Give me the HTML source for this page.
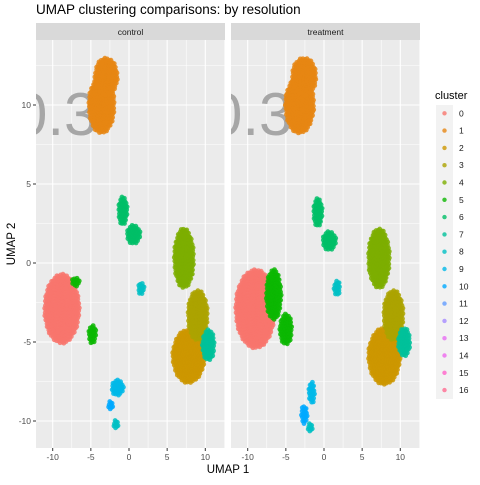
<!DOCTYPE html>
<html><head><meta charset="utf-8"><style>
body{margin:0;background:#fff;}
svg{font-family:"Liberation Sans",sans-serif;}
</style></head><body>
<svg id="chart" width="480" height="480" xmlns="http://www.w3.org/2000/svg">
<rect width="480" height="480" fill="#fff"/>
<text x="36" y="14" font-size="13.5" fill="#000">UMAP clustering comparisons: by resolution</text>
<text x="228" y="473" font-size="11.5" text-anchor="middle">UMAP 1</text>
<text x="15" y="244" font-size="11.5" text-anchor="middle" transform="rotate(-90 15 244)">UMAP 2</text>
<g id="panels"></g>
<g id="legend">
<text x="435" y="99" font-size="11">cluster</text>
<rect x="436" y="105" width="17" height="294" fill="#F2F2F2"/>
</g>
</svg>
<script>
const facets = ["control","treatment"];
const clusterIds = [0,1,2,3,4,5,6,7,8,9,10,11,12,13,14,15,16];
const clusterColors = ["#F8766D","#E68613","#CD9600","#ABA300","#7CAE00","#0CB702","#00BE67","#00C19A","#00BFC4","#00B8E7","#00A9FF","#619CFF","#A58AFF","#E76BF3","#ED68ED","#FF61C9","#FF6C91"];
const xTicks = [-10,-5,0,5,10];
const yTicks = [-10,-5,0,5,10];
// blobs: [facet, cluster, cx, cy, rx, ry]
const blobFacet = [0,0,0,0,0,0,0,0,0,0,0,0,0,0,0, 1,1,1,1,1,1,1,1,1,1,1,1,1,1,1];
const blobCluster = [1,1,0,2,3,4,7,5,5,6,6,8,9,10,8, 1,1,0,5,5,2,3,4,7,6,6,8,9,10,8];
const blobCx = [-3.6,-3.0,-8.8,7.8,9.0,7.2,10.4,-7.0,-4.8,-0.8,0.6,1.6,-1.5,-2.4,-1.7, -3.2,-2.6,-9.0,-6.6,-5.0,7.9,9.1,7.2,10.5,-0.8,0.7,1.7,-1.6,-2.6,-1.8];
const blobCy = [10.0,11.8,-2.9,-5.9,-3.3,0.3,-5.2,-1.2,-4.5,3.3,1.8,-1.6,-7.9,-9.0,-10.2, 10.0,11.8,-2.9,-2.0,-4.2,-5.9,-3.3,0.3,-5.0,3.2,1.4,-1.6,-8.2,-9.6,-10.4];
const blobRx = [1.7,1.5,2.3,2.1,1.3,1.3,0.8,0.5,0.5,0.6,0.9,0.4,0.8,0.3,0.3, 1.9,1.6,2.6,1.0,0.8,2.1,1.3,1.4,0.8,0.6,0.9,0.4,0.4,0.4,0.3];
const blobRy = [1.8,1.2,2.2,1.7,1.6,1.9,1.0,0.3,0.6,0.9,0.6,0.4,0.5,0.3,0.3, 1.8,1.2,2.5,1.6,1.0,1.8,1.6,1.9,0.9,0.9,0.6,0.5,0.7,0.6,0.3];

const NS="http://www.w3.org/2000/svg";
const panelX=[36,231], panelW=189, panelTop=40, panelBot=448;
function sx(f,v){return panelX[f]+16.7+(v+10)*7.63;}
function sy(v){return 263-v*15.8;}
const root=document.getElementById('panels');
function mk(tag,attrs,parent){const e=document.createElementNS(NS,tag);for(const k in attrs)e.setAttribute(k,attrs[k]);parent.appendChild(e);return e;}

facets.forEach((name,f)=>{
  const g=mk('g',{},root);
  
  
  const x0=panelX[f];
  const strip=mk('rect',{x:x0,y:23,width:panelW,height:17,fill:'#D9D9D9'},g);
  
  
  const st=mk('text',{x:x0+panelW/2,y:35,'font-size':'8.5','text-anchor':'middle',fill:'#1A1A1A'},g);
  st.textContent=name;
  
  
  const bg=mk('rect',{x:x0,y:panelTop,width:panelW,height:panelBot-panelTop,fill:'#EBEBEB'},g);
  
  
  const cp=mk('clipPath',{id:'clip'+f},g);
  mk('rect',{x:x0,y:panelTop,width:panelW,height:panelBot-panelTop},cp);
  const inner=mk('g',{'clip-path':'url(#clip'+f+')'},g);
  for(let v=-12.5;v<=12.5;v+=2.5){
    const major=(v%5===0);
    mk('line',{x1:sx(f,v),x2:sx(f,v),y1:panelTop,y2:panelBot,stroke:'#fff','stroke-width':major?1.1:0.55},inner);
  }
  for(let v=-12.5;v<=15;v+=2.5){
    const major=(v%5===0);
    mk('line',{x1:x0,x2:x0+panelW,y1:sy(v),y2:sy(v),stroke:'#fff','stroke-width':major?1.1:0.55},inner);
  }
  const big=mk('text',{x:x0-22,y:135,'font-size':'60',fill:'#A6A6A6'},inner);
  big.textContent='0.3';
  
  
  const pts=mk('g',{},inner);
  
  
  for(let i=0;i<blobFacet.length;i++){
    if(blobFacet[i]!==f)continue;
    const col=clusterColors[blobCluster[i]];
    const rxp=blobRx[i]*7.63, ryp=blobRy[i]*15.8;
    const n=Math.max(10,Math.round(rxp*ryp/1.3));
    for(let k=0;k<n;k++){
      const r=Math.sqrt((k+0.5)/n), a=k*2.39996;
      const c=mk('circle',{cx:sx(f,blobCx[i])+r*rxp*Math.cos(a),cy:sy(blobCy[i])+r*ryp*Math.sin(a),r:2.4,fill:col,'fill-opacity':0.85},pts);
      
      
    }
  }
  xTicks.forEach(v=>{
    mk('line',{x1:sx(f,v),x2:sx(f,v),y1:panelBot,y2:panelBot+3,stroke:'#333'},g);
    const t=mk('text',{x:sx(f,v),y:panelBot+12,'font-size':'8.5','text-anchor':'middle',fill:'#4D4D4D'},g);
    t.textContent=String(v);
    
    
  });
  if(f===0){
    yTicks.forEach(v=>{
      mk('line',{x1:x0-3,x2:x0,y1:sy(v),y2:sy(v),stroke:'#333'},g);
      const t=mk('text',{x:x0-5,y:sy(v)+3,'font-size':'8.5','text-anchor':'end',fill:'#4D4D4D'},g);
      t.textContent=String(v);
      
      
    });
  }
});
const lg=document.getElementById('legend');
clusterIds.forEach((c,i)=>{
  const y=113.3+i*17.3;
  const d=mk('circle',{cx:444.5,cy:y,r:2.2,fill:clusterColors[i],'fill-opacity':0.8},lg);
  
  
  const t=mk('text',{x:459,y:y+3,'font-size':'8.5',fill:'#1A1A1A'},lg);
  t.textContent=String(c);
  
  
});
</script>
</body></html>
